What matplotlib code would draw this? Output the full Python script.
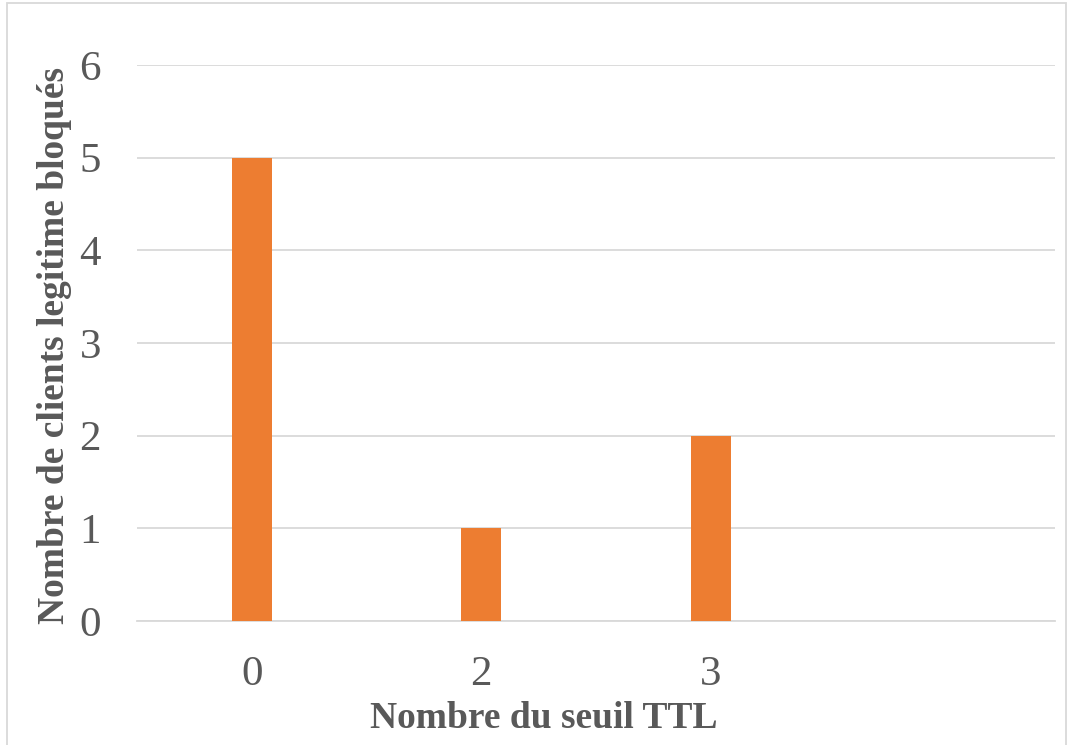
import matplotlib
matplotlib.use("Agg")
import matplotlib.pyplot as plt
from matplotlib.patches import Rectangle

categories = ["0", "2", "3", ""]
values = [5, 1, 2, 0]
yticks = [0, 1, 2, 3, 4, 5, 6]
xlabel = "Nombre du seuil TTL"
ylabel = "Nombre de clients legitime bloqués"

plt.rcParams['font.family'] = ['Liberation Serif', 'DejaVu Serif']
fig = plt.figure(figsize=(10.68, 7.45), dpi=100)
ax = fig.add_axes([137/1068, 1-621/745, (1055-137)/1068, (621-65)/745])

x = list(range(len(categories)))
ax.bar(x[:3], values[:3], width=0.175, color="#ED7D31", zorder=3)
ax.set_xlim(-0.5, len(categories)-0.5)
ax.set_ylim(0, 6)
ax.set_xticks(x)
ax.set_xticklabels(categories)
ax.set_yticks(yticks)
ax.tick_params(axis='both', length=0, labelsize=31, colors="#595959")
ax.tick_params(axis='x', pad=25)
ax.tick_params(axis='y', pad=26)
ax.grid(axis='y', color="#d9d9d9", linewidth=1.3, zorder=0)
for s in ['top', 'right', 'left']:
    ax.spines[s].set_visible(False)
ax.spines['bottom'].set_color("#d9d9d9")
ax.spines['bottom'].set_linewidth(1.3)
ax.set_xlabel(xlabel, fontsize=27, fontweight='bold', color="#595959")
ax.set_ylabel(ylabel, fontsize=27, fontweight='bold', color="#595959")
ax.xaxis.set_label_coords((544-137)/918, -(718-621)/556, transform=ax.transAxes)
ax.xaxis.label.set_va('center')
ax.yaxis.set_label_coords(-(137-55)/918, (621-346)/556, transform=ax.transAxes)
ax.yaxis.label.set_va('center')

fig.patches.append(Rectangle((7/1068, -0.01), (1066-7)/1068, 1-3/745+0.01,
                             transform=fig.transFigure, fill=False,
                             edgecolor="#d9d9d9", linewidth=1.3))
fig.savefig("out.png", dpi=100)
